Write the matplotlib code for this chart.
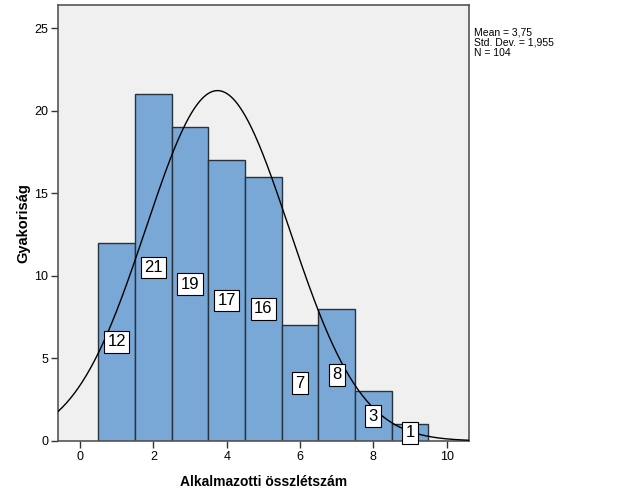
import numpy as np
import matplotlib
matplotlib.use("Agg")
import matplotlib.pyplot as plt

plt.rcParams['font.family'] = ['Liberation Sans', 'DejaVu Sans']

# histogram data
bin_centers = [1, 2, 3, 4, 5, 6, 7, 8, 9]
counts = [12, 21, 19, 17, 16, 7, 8, 3, 1]
mean, std_dev, n = 3.75, 1.955, 104
stats_lines = ["Mean = 3,75", "Std. Dev. = 1,955", "N = 104"]
x_ticks = [0, 2, 4, 6, 8, 10]
y_ticks = [0, 5, 10, 15, 20, 25]

fig = plt.figure(figsize=(6.26, 5.01), dpi=100)
ax = fig.add_axes([0.0927, 0.1198, 0.656, 0.870])
ax.set_facecolor('#f0f0f0')

ax.bar(bin_centers, counts, width=1.0, color='#79a7d6', edgecolor='#27323d',
       linewidth=1.0, zorder=2)

# normal curve scaled to the counts (bin width 1)
xs = np.linspace(-0.6, 10.6, 400)
ys = n / (std_dev * np.sqrt(2 * np.pi)) * np.exp(-0.5 * ((xs - mean) / std_dev) ** 2)
ax.plot(xs, ys, color='black', linewidth=1.0, zorder=4)

# value labels in the middle of each bar
for c, v in zip(bin_centers, counts):
    ax.text(c, v / 2.0, str(v), ha='center', va='center', fontsize=12,
            color='black', zorder=5,
            bbox=dict(boxstyle='square,pad=0.2', facecolor='white',
                      edgecolor='black', linewidth=0.8))

ax.set_xlim(-0.6, 10.6)
ax.set_ylim(0, 26.4)
ax.set_xticks(x_ticks)
ax.set_yticks(y_ticks)
ax.tick_params(axis='both', labelsize=9, length=5, width=1, color='#333333',
               direction='out', pad=2)
for s in ax.spines.values():
    s.set_color('#555555')
    s.set_linewidth(1.2)

ax.set_xlabel('Alkalmazotti összlétszám', fontsize=10, fontweight='bold',
              labelpad=9)
ax.set_ylabel('Gyakoriság', fontsize=10.5, fontweight='bold', labelpad=3)

fig.text(0.757, 0.946, "\n".join(stats_lines), fontsize=7.5, va='top',
         ha='left', linespacing=1.05)

fig.savefig('out.png', dpi=100)
